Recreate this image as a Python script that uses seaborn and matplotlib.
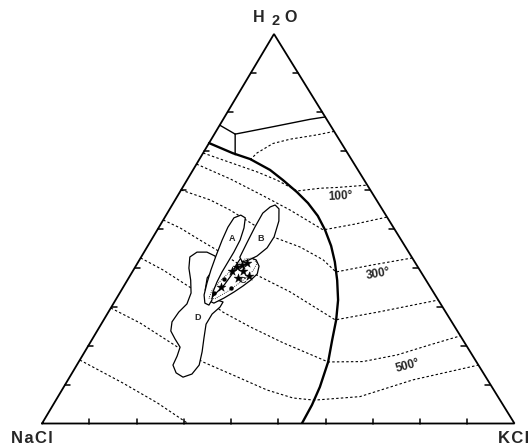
import matplotlib
matplotlib.use("Agg")
import numpy as np
import matplotlib.pyplot as plt
import seaborn as sns

# Compositions in wt% : H2O and KCl, NaCl is the remainder
# halite / sylvite saturation boundary
sat_h2o = [72.0, 69.4, 67.9, 65.1, 62.5, 59.4, 56.6, 53.3, 49.7, 45.6, 41.5, 36.8,
           31.7, 26.6, 21.4, 15.8, 9.4, 4.75, 0]
sat_kcl = [0, 6.3, 10.7, 16.3, 20.3, 24.8, 28.5, 32.2, 35.5, 38.8, 41.6, 44.4,
           47.1, 49.2, 50.9, 52.8, 54.2, 54.8, 55.0]

# low temperature field boundaries near the H2O apex
ice_h2o = [76.6, 74.3]
ice_kcl = [0, 4.4]
hh_h2o = [74.3, 74.8, 76.2, 78.1, 78.7]
hh_kcl = [4.4, 6.3, 11.5, 18.4, 21.3]
syl_h2o = [74.3, 69.0]
syl_kcl = [4.4, 7.0]

# isotherms (deg C)
iso0_h2o = [67.65, 69.45, 71.9, 73.0, 74.1, 75.0]
iso0_kcl = [10.8, 11.4, 13.6, 16.7, 21.8, 25.0]
iso100_h2o = [69.45, 67.65, 64.6, 62.5, 59.7, 60.4, 60.6, 61.2]
iso100_kcl = [0, 5.1, 13.8, 19.0, 24.7, 29.2, 32.7, 38.8]
iso200_h2o = [66.6, 62.8, 58.9, 54.8, 49.7, 51.2, 53.0]
iso200_kcl = [0, 9.0, 17.2, 25.6, 35.1, 41.1, 47.0]
iso300_h2o = [59.95, 57.4, 54.8, 47.9, 45.3, 42.0, 38.9, 40.7, 42.5]
iso300_kcl = [0, 7.4, 12.9, 25.4, 32.4, 38.9, 43.1, 49.9, 57.5]
iso400_h2o = [52.25, 50.2, 47.1, 44.5, 38.6, 33.8, 26.6, 28.7, 31.7]
iso400_kcl = [0, 4.6, 10.3, 15.2, 25.7, 35.9, 49.0, 57.4, 68.3]
iso500_h2o = [42.5, 39.4, 35.0, 28.6, 24.8, 20.7, 15.8, 15.9, 17.6, 20.2, 22.5]
iso500_kcl = [0, 6.3, 14.1, 24.25, 31.9, 40.9, 52.8, 60.1, 66.5, 72.2, 77.5]
iso600_h2o = [29.65, 25.8, 19.6, 15.8, 12.45, 8.6, 6.55, 6.0, 6.9, 11.2, 15.0]
iso600_kcl = [0, 8.1, 19.1, 26.3, 34.3, 43.4, 49.9, 54.7, 63.9, 73.0, 85.0]
iso700_h2o = [16.3, 10.4, 5.3, 0]
iso700_kcl = [0, 12.0, 21.8, 30.9]

# inclusion fields A-D
field_a_h2o = [53.5, 52.8, 50.2, 47.1, 44.0, 41.5, 38.9, 36.3, 33.8, 31.7, 30.4,
               30.9, 33.0, 36.1, 39.4, 43.0, 47.1, 50.4, 52.8]
field_a_kcl = [15.8, 17.1, 18.1, 18.8, 19.0, 19.0, 19.0, 19.2, 19.6, 20.4, 20.4,
               19.3, 18.1, 17.2, 16.4, 15.7, 15.0, 14.6, 14.7]
field_b_h2o = [56.1, 55.1, 52.0, 47.9, 45.1, 43.0, 42.0, 41.5, 42.7, 46.3, 50.4, 54.0, 55.6]
field_b_kcl = [21.8, 23.1, 24.6, 25.6, 25.5, 24.4, 23.2, 22.0, 20.9, 20.6, 20.3, 20.2, 21.0]
field_c_h2o = [42.2, 42.7, 42.0, 40.4, 38.4, 36.8, 35.3, 33.8, 32.2, 30.9, 31.5,
               33.2, 35.6, 38.4, 40.7]
field_c_kcl = [21.2, 22.8, 24.7, 26.1, 26.7, 26.1, 25.2, 24.1, 22.7, 21.2, 19.9,
               20.3, 21.1, 21.4, 21.1]
field_d_h2o = [42.75, 44.0, 44.0, 43.0, 41.5, 39.4, 37.4, 34.3, 32.0, 31.7, 31.2,
               29.9, 28.1, 25.5, 21.95, 18.4, 15.0, 12.7, 11.9, 13.0, 15.0, 17.3,
               19.6, 21.7, 23.75, 26.1, 28.6, 30.7, 33.5, 36.8, 39.9]
field_d_kcl = [10.3, 11.2, 13.3, 15.5, 16.7, 16.8, 16.6, 17.7, 19.4, 21.5, 23.0,
               23.0, 22.2, 22.2, 23.5, 24.85, 25.9, 25.5, 24.0, 22.0, 20.35, 20.1,
               19.6, 17.5, 15.6, 14.7, 14.9, 15.6, 15.1, 13.4, 11.5]
cloud_h2o = [42.5, 41.2, 39.2, 36.6, 34.0, 32.0, 32.2, 34.3, 37.1, 40.4, 42.2]
cloud_kcl = [23.6, 25.3, 25.4, 24.4, 22.7, 20.9, 19.5, 19.2, 19.9, 21.2, 22.2]

# individual inclusions
star_h2o = [39.15, 40.2, 40.7, 41.2, 39.15, 37.4, 37.9, 35.0]
star_kcl = [21.0, 21.5, 22.35, 23.2, 23.3, 23.1, 25.2, 20.7]
dot_h2o = [37.1, 34.8, 33.5]
dot_kcl = [20.3, 22.9, 19.95]

APEX = 0.491  # horizontal position of the H2O corner along the base


def tern(h2o, kcl):
    h2o = np.asarray(h2o, dtype=float)
    kcl = np.asarray(kcl, dtype=float)
    return (kcl + APEX * h2o) / 100.0, h2o / 100.0


sns.set_theme(style="white")
plt.rcParams["font.family"] = ["Liberation Sans", "DejaVu Sans"]

fig = plt.figure(figsize=(5.31, 4.48), dpi=100)
ax = fig.add_axes([42 / 531, 24.5 / 448, 472.5 / 531, 389.5 / 448])
ax.set_xlim(0, 1)
ax.set_ylim(0, 1)
ax.axis("off")

# triangle frame
ax.plot([0, 1, APEX, 0], [0, 0, 1, 0], color="black", lw=1.3, zorder=5,
        clip_on=False, solid_joinstyle="miter")

# ticks every 10 %
tx, ty = 5 / 472.5, 5 / 389.5
for i in range(1, 10):
    f = i / 10
    ax.plot([f, f], [0, ty], color="black", lw=1.1, zorder=5, clip_on=False)
    x, y = tern(i * 10, 0)
    ax.plot([x, x + tx], [y, y], color="black", lw=1.1, zorder=5, clip_on=False)
    x, y = tern(i * 10, 100 - i * 10)
    ax.plot([x, x - tx], [y, y], color="black", lw=1.1, zorder=5, clip_on=False)

# isotherms
dash = (0, (2.2, 2.0))
isotherms = [(iso0_h2o, iso0_kcl), (iso100_h2o, iso100_kcl), (iso200_h2o, iso200_kcl),
             (iso300_h2o, iso300_kcl), (iso400_h2o, iso400_kcl), (iso500_h2o, iso500_kcl),
             (iso600_h2o, iso600_kcl), (iso700_h2o, iso700_kcl)]
for hh, kk in isotherms:
    x, y = tern(hh, kk)
    sns.lineplot(x=x, y=y, sort=False, estimator=None, color="black", lw=0.8,
                 linestyle=dash, ax=ax, zorder=1)

# field boundaries near apex
for hh, kk in [(ice_h2o, ice_kcl), (hh_h2o, hh_kcl), (syl_h2o, syl_kcl)]:
    x, y = tern(hh, kk)
    sns.lineplot(x=x, y=y, sort=False, estimator=None, color="black", lw=1.0, ax=ax, zorder=3)

# saturation curve
x, y = tern(sat_h2o, sat_kcl)
sns.lineplot(x=x, y=y, sort=False, estimator=None, color="black", lw=1.7, ax=ax, zorder=3)

# inclusion fields
for hh, kk in [(field_d_h2o, field_d_kcl), (field_c_h2o, field_c_kcl),
               (field_b_h2o, field_b_kcl), (field_a_h2o, field_a_kcl)]:
    x, y = tern(hh, kk)
    ax.fill(x, y, facecolor="white", edgecolor="black", lw=0.9, zorder=4,
            joinstyle="round")

x, y = tern(cloud_h2o, cloud_kcl)
ax.fill(x, y, facecolor="none", edgecolor="black", lw=0.6, linestyle=(0, (1, 1.5)), zorder=4)

x, y = tern(star_h2o, star_kcl)
sns.scatterplot(x=x, y=y, marker="*", s=45, color="black", edgecolor="black",
                linewidth=0.3, ax=ax, zorder=6)
x, y = tern(dot_h2o, dot_kcl)
sns.scatterplot(x=x, y=y, marker="o", s=10, color="black", edgecolor="black",
                linewidth=0, ax=ax, zorder=6)

# field letters
for lab, hh, kk in [("A", 47.6, 16.8), ("B", 47.6, 22.8), ("C", 36.8, 24.45), ("D", 27.1, 19.7)]:
    x, y = tern(hh, kk)
    ax.text(x, y, lab, fontsize=6.5, fontweight="bold", ha="center", va="center", zorder=7)

# isotherm labels
for lab, hh, kk, rot in [("100°", 58.4, 34.4, 3), ("300°", 38.4, 52.3, 10), ("500°", 14.8, 70.2, 15)]:
    x, y = tern(hh, kk)
    ax.text(x, y, lab, fontsize=8.5, fontweight="bold", ha="center", va="center",
            rotation=rot, zorder=7)

# corner labels
apex = tern(100, 0)
ax.annotate("H", xy=apex, xytext=(-10.8, 8.6), textcoords="offset points",
            ha="center", va="baseline", fontsize=11.5, fontweight="bold")
ax.annotate("2", xy=apex, xytext=(1.4, 6.5), textcoords="offset points",
            ha="center", va="baseline", fontsize=10.5, fontweight="bold")
ax.annotate("O", xy=apex, xytext=(12.2, 8.6), textcoords="offset points",
            ha="center", va="baseline", fontsize=11.5, fontweight="bold")
ax.annotate("N\u200aa\u200aC\u200al", xy=(0, 0), xytext=(-7.2, -13.7), textcoords="offset points",
            ha="center", va="baseline", fontsize=12, fontweight="bold")
ax.annotate("K\u200aC\u200al", xy=(1, 0), xytext=(-11.9, -13.7), textcoords="offset points",
            ha="left", va="baseline", fontsize=12, fontweight="bold")

fig.savefig("out.png", dpi=100, facecolor="white")
